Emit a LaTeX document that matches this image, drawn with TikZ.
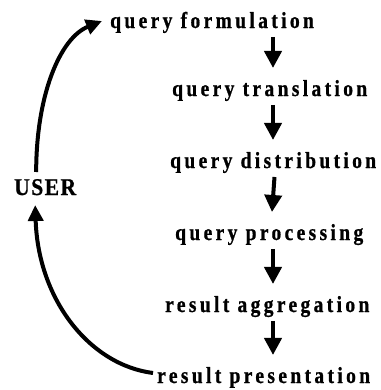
\documentclass[tikz,border=0pt]{standalone}
\usepackage{fontspec}
\newfontfamily\labfont{Liberation Serif}[FakeStretch=0.85,LetterSpace=14.5,FakeBold=0.8]
\newfontfamily\userfont{Liberation Serif}[FakeStretch=0.9,LetterSpace=6,FakeBold=0.8]
\usetikzlibrary{arrows.meta,calc}
\begin{document}
\begin{tikzpicture}[x=1bp,y=1bp,
  lbl/.style={inner sep=0pt, anchor=base west, font=\labfont\bfseries\fontsize{23bp}{26bp}\selectfont},
  ulbl/.style={inner sep=0pt, anchor=base west, font=\userfont\bfseries\fontsize{24bp}{27bp}\selectfont},
  vlink/.style={line width=4bp, -{Triangle[length=17bp,width=17bp]}},
  clink/.style={line width=4bp, -{Triangle[length=16bp,width=15bp]}}]
\useasboundingbox (0,0) rectangle (381,390);
\node[lbl] (f) at (110,362) {query formulation};
\node[lbl] (t) at (172,294) {query translation};
\node[lbl] (d) at (170,222) {query distribution};
\node[lbl] (p) at (175,150) {query processing};
\node[lbl] (a) at (165,78) {result aggregation};
\node[lbl] (r) at (157,7) {result presentation};
\node[ulbl] (u) at (14,195) {USER};
\coordinate (col) at (273,0);
\draw[vlink] ($(f.base -| col)+(0,-9)$) -- ($(t.base -| col)+(0,28)$);
\draw[vlink] ($(t.base -| col)+(0,-9)$) -- ($(d.base -| col)+(0,28)$);
\draw[vlink] ($(d.base -| col)+(1.5,-9)$) -- ($(p.base -| col)+(-1,28)$);
\draw[vlink] ($(p.base -| col)+(0,-9)$) -- ($(a.base -| col)+(0,28)$);
\draw[vlink] ($(a.base -| col)+(0,-9)$) -- ($(r.base -| col)+(0,28)$);
\coordinate (s1) at ($(u.base)+(-9,23)$);
\coordinate (e1) at ($(f.base west)+(-8,7)$);
\draw[clink] (s1) .. controls ($(s1)+(0,77)$) and ($(e1)+(-42,-17)$) .. (e1);
\coordinate (s2) at ($(r.base west)+(-4,10)$);
\coordinate (e2) at ($(u.base)+(-10,-10)$);
\draw[clink] (s2) .. controls ($(s2)+(-63,8)$) and ($(e2)+(3,-95)$) .. (e2);
\end{tikzpicture}
\end{document}
